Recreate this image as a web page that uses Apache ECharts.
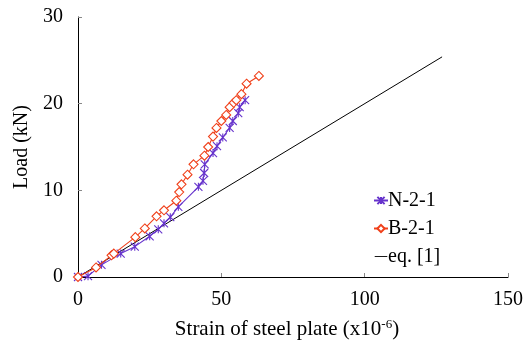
<!DOCTYPE html>
<html>
<head>
<meta charset="utf-8">
<script src="https://cdn.jsdelivr.net/npm/echarts@6/dist/echarts.min.js"></script>
<style>
  html, body { margin: 0; padding: 0; background: #fff; }
  #main { width: 525px; height: 340px; }
</style>
</head>
<body>
<div id="main"></div>
<script>
// strain (x10^-6) vs load (kN)
const n21Strain = [0, 3.5, 8.2, 14.9, 19.8, 25, 28, 30, 32.2, 35, 42, 43.6, 44, 44.2, 47.1, 48.5, 50.5, 52.9, 54, 55.9, 56.4, 58.3];
const n21Load   = [0, 0.1, 1.4, 2.7, 3.5, 4.7, 5.5, 6.2, 6.9, 8.1, 10.4, 11.1, 12.0, 13.0, 14.3, 15.1, 16.1, 17.2, 18.0, 18.9, 19.6, 20.4];

const b21Strain = [0, 6.3, 11.7, 12.5, 20, 23.3, 27.4, 30, 34.3, 35.3, 36.1, 38.2, 40.3, 44.1, 45.4, 47.1, 48.3, 50, 51.7, 52.9, 54.3, 55.2, 57, 58.8, 63.1];
const b21Load   = [0, 1.1, 2.5, 2.7, 4.6, 5.6, 7.0, 7.7, 8.8, 9.8, 10.7, 11.8, 13.0, 14.0, 15.0, 16.2, 17.2, 18.0, 18.7, 19.6, 20.1, 20.4, 21.1, 22.3, 23.2];

const eqStrain = [0, 127];
const eqLoad   = [0, 25.4];

const xTicks = [0, 50, 100, 150];
const yTicks = [0, 10, 20, 30];

const font = 'Liberation Serif';
const fs = 20;
const pairs = (xs, ys) => xs.map((x, i) => [x, ys[i]]);

const chart = echarts.init(document.getElementById('main'));
chart.setOption({
  animation: false,
  textStyle: { fontFamily: font, color: '#000' },
  grid: { left: 78, right: 17, top: 17, bottom: 63, containLabel: false, outerBoundsMode: 'none' },
  xAxis: {
    type: 'value',
    min: xTicks[0], max: xTicks[xTicks.length - 1], interval: 50,
    name: '{n|Strain of steel plate (x10}{s|-6}{n|)}',
    nameLocation: 'middle', nameGap: 41,
    nameTextStyle: { padding: [0, 12, 0, 0], rich: { n: { fontFamily: font, fontSize: 21, color: '#000' }, s: { fontFamily: font, fontSize: 13, color: '#000', verticalAlign: 'top', padding: [0, 0, 9, 0] } } },
    axisLine: { lineStyle: { color: '#000', width: 1 } },
    axisTick: { inside: true, length: 4, lineStyle: { color: '#888' } },
    axisLabel: { fontFamily: font, fontSize: fs, color: '#000', margin: 13 },
    splitLine: { show: false }
  },
  yAxis: {
    type: 'value',
    min: yTicks[0], max: yTicks[yTicks.length - 1], interval: 10,
    name: 'Load (kN)',
    nameLocation: 'middle', nameGap: 40,
    nameTextStyle: { fontFamily: font, fontSize: fs, color: '#000' },
    axisLine: { show: true, lineStyle: { color: '#000', width: 1 } },
    axisTick: { show: true, inside: true, length: 4, lineStyle: { color: '#888' } },
    axisLabel: { fontFamily: font, fontSize: fs, color: '#000', margin: 15 },
    splitLine: { show: false }
  },
  legend: {
    orient: 'vertical', left: 368, top: 184,
    itemWidth: 14, itemHeight: 9, itemGap: 5,
    textStyle: { fontFamily: font, fontSize: fs, color: '#000', padding: [0, 0, 0, -5], lineHeight: 23 },
    data: [
      'N-2-1',
      'B-2-1',
      { name: 'eq. [1]', icon: 'path://M0,0L0,0M0,4.5L14,4.5L14,5.5L0,5.5ZM14,10L14,10' }
    ]
  },
  series: [
    {
      name: 'N-2-1', type: 'line',
      data: pairs(n21Strain, n21Load),
      symbol: 'path://M0,0L10,10M10,0L0,10M5,0L5,10',
      symbolSize: 8,
      lineStyle: { color: '#6633cc', width: 1.1 },
      itemStyle: { color: 'none', borderColor: '#6633cc', borderWidth: 1.1 },
      z: 3
    },
    {
      name: 'B-2-1', type: 'line',
      data: pairs(b21Strain, b21Load),
      symbol: 'diamond', symbolSize: 9,
      lineStyle: { color: '#f0401a', width: 1.1 },
      itemStyle: { color: '#fff', borderColor: '#f0401a', borderWidth: 1.1 },
      z: 4
    },
    {
      name: 'eq. [1]', type: 'line',
      data: pairs(eqStrain, eqLoad),
      symbol: 'none',
      lineStyle: { color: '#000', width: 1 },
      itemStyle: { color: '#000' },
      z: 2
    }
  ]
});
</script>
</body>
</html>
